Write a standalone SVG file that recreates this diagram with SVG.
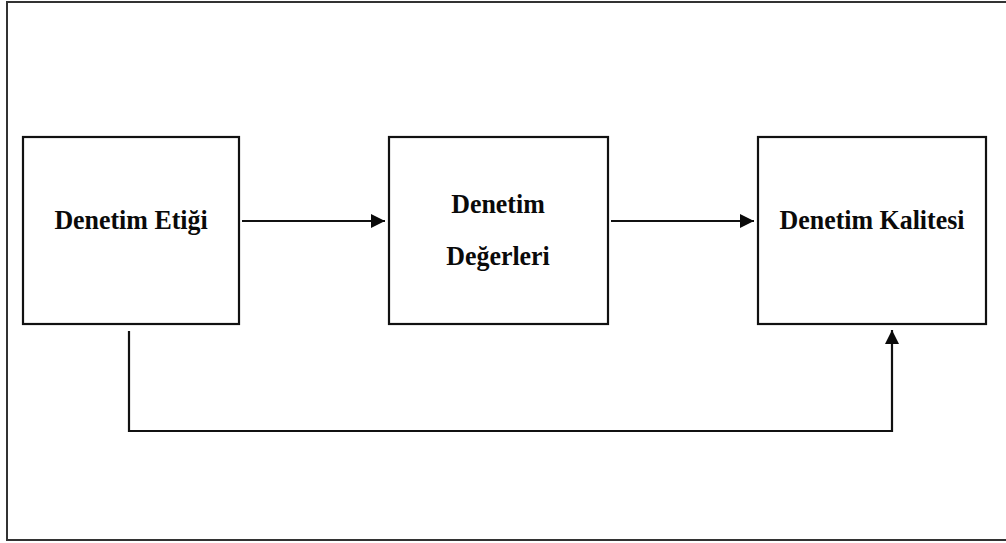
<svg xmlns="http://www.w3.org/2000/svg" width="1006" height="543" viewBox="0 0 1006 543">
  <style>
    .frame { fill: #ffffff; stroke: #333333; stroke-width: 2; }
    .box { fill: #ffffff; stroke: #111111; stroke-width: 2.2; }
    .link { fill: none; stroke: #111111; stroke-width: 2.2; }
    .label { font-family: "Liberation Serif", "Times New Roman", serif; font-weight: bold; font-size: 27px; fill: #0a0a0a; text-anchor: middle; }
  </style>
  <defs>
    <marker id="arrow" viewBox="0 0 14 14" refX="14" refY="7" markerWidth="14" markerHeight="14" markerUnits="userSpaceOnUse" orient="auto">
      <path d="M0,0 L14,7 L0,14 Z" fill="#0a0a0a"/>
    </marker>
  </defs>

  <rect width="1006" height="543" fill="#ffffff"/>
  <!-- outer frame (right edge runs past the canvas) -->
  <rect class="frame" x="7" y="2" width="1010" height="538"/>

  <g id="connectors">
    <line class="link" x1="242" y1="221" x2="385" y2="221" marker-end="url(#arrow)"/>
    <line class="link" x1="611" y1="221" x2="754" y2="221" marker-end="url(#arrow)"/>
    <polyline class="link" points="129,331 129,431 892,431 892,330" marker-end="url(#arrow)"/>
  </g>

  <g id="node-etik">
    <rect class="box" x="23" y="137" width="216" height="187"/>
    <text class="label" transform="translate(131 229) scale(0.96 1)">Denetim Etiği</text>
  </g>

  <g id="node-degerler">
    <rect class="box" x="389" y="137" width="219" height="187"/>
    <text class="label" transform="translate(498 213) scale(0.96 1)">Denetim</text>
    <text class="label" transform="translate(498 265) scale(0.96 1)">Değerleri</text>
  </g>

  <g id="node-kalite">
    <rect class="box" x="758" y="137" width="228" height="187"/>
    <text class="label" transform="translate(872 229) scale(0.96 1)">Denetim Kalitesi</text>
  </g>
</svg>
